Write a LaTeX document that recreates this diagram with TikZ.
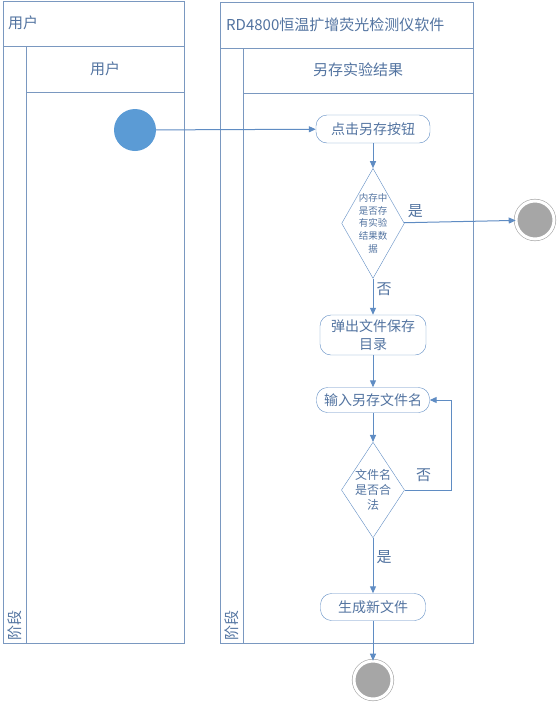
\documentclass[tikz,border=0pt]{standalone}
\usepackage{fontspec}
\newfontfamily\cjk{Noto Sans CJK SC}
\usepackage{tikz}
\usetikzlibrary{shapes, arrows.meta, positioning, calc}
\definecolor{lanecol}{RGB}{122,152,192}
\definecolor{flowcol}{RGB}{95,140,195}
\definecolor{txtcol}{RGB}{82,115,160}
\definecolor{startcol}{RGB}{91,155,213}
\definecolor{endcol}{RGB}{166,166,166}
\tikzstyle{lane} = [draw=lanecol, line width=1pt]
\tikzstyle{pooltitle} = [text=txtcol, anchor=west, inner sep=0, font=\cjk\fontsize{15}{18}\selectfont]
\tikzstyle{lanetitle} = [text=txtcol, inner sep=0, font=\cjk\fontsize{15}{18}\selectfont]
\tikzstyle{stagetext} = [text=txtcol, rotate=90, anchor=west, inner sep=0, font=\cjk\fontsize{15}{17}\selectfont]
\tikzstyle{activity} = [rectangle, rounded corners=11pt, draw=flowcol, text=txtcol, align=center, inner sep=0, font=\cjk\fontsize{14}{18}\selectfont]
\tikzstyle{decision} = [diamond, draw=flowcol, text=txtcol, align=center, inner sep=0]
\tikzstyle{initial} = [circle, fill=startcol, minimum size=42pt, inner sep=0]
\tikzstyle{final} = [circle, draw=endcol, line width=0.6pt, fill=endcol, double=white, double distance=3pt, minimum size=38pt, inner sep=0]
\tikzstyle{flow} = [draw=flowcol, line width=1pt, -{Triangle[length=7pt,width=6pt]}]
\tikzstyle{guard} = [text=txtcol, inner sep=0, font=\cjk\fontsize{15}{17}\selectfont]

\begin{document}
\begin{tikzpicture}[x=1pt, y=-1pt]
	\useasboundingbox (0,0) rectangle (557,702);
	% pool: user
	\draw[lane] (3,1) rectangle (184,643);
	\draw[lane] (3,46) -- (184,46);
	\draw[lane] (26,46) -- (26,643);
	\draw[lane] (26,92) -- (184,92);
	\node (pool1) [pooltitle] at (8,23) {用户};
	\node (lane1) [lanetitle] at (105,69) {用户};
	\node (stage1) [stagetext] at (15,641) {阶段};
	% pool: software
	\draw[lane] (220,2) rectangle (473,643);
	\draw[lane] (220,48) -- (473,48);
	\draw[lane] (243,48) -- (243,643);
	\draw[lane] (243,93) -- (473,93);
	\node (pool2) [pooltitle] at (226,25) {RD4800恒温扩增荧光检测仪软件};
	\node (lane2) [lanetitle] at (358,70) {另存实验结果};
	\node (stage2) [stagetext] at (232,641) {阶段};

	\node (start) [initial] at (135,130) {};
	\node (click) [activity, minimum width=114pt, minimum height=28pt] at (373,129) {点击另存按钮};
	\node (dec1) [decision, aspect=0.57, minimum width=60pt, minimum height=105pt, below=25pt of click, font=\cjk\fontsize{9.5}{12.8}\selectfont] {内存中\\是否存\\有实验\\结果数\\据};
	\node (stop1) [final] at (535,220) {};
	\node (popup) [activity, minimum width=106pt, minimum height=40pt] at (373,335) {弹出文件保存\\目录};
	\node (input) [activity, minimum width=113pt, minimum height=25pt] at (373,400) {输入另存文件名};
	\node (dec2) [decision, aspect=0.66, minimum width=62pt, minimum height=94pt, font=\cjk\fontsize{12}{15}\selectfont] at (373,490) {文件名\\是否合\\法};
	\node (newfile) [activity, minimum width=105pt, minimum height=27pt] at (373,607) {生成新文件};
	\node (stop2) [final] at (373,680) {};

	\draw [flow] (start) -- (click);
	\draw [flow] (click) -- (dec1);
	\draw [flow] (dec1) -- node[guard, pos=0.1, above=4pt] {是} (stop1);
	\draw [flow] (dec1) -- node[guard, pos=0.3, right=3pt] {否} (popup);
	\draw [flow] (popup) -- (input);
	\draw [flow] (input) -- (dec2);
	\draw [flow] (dec2.east) -- ++(47,0) coordinate (loop) node[guard, pos=0.4, above=8pt] {否} |- (input.east);
	\draw [flow] (dec2) -- node[guard, pos=0.35, right=3pt] {是} (newfile);
	\draw [flow] (newfile) -- (stop2);
\end{tikzpicture}
\end{document}
